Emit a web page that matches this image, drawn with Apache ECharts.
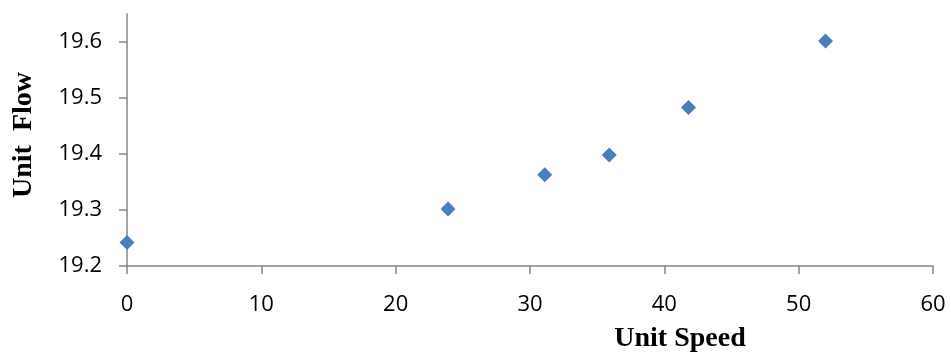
<!DOCTYPE html>
<html>
<head>
<meta charset="utf-8">
<script src="https://cdn.jsdelivr.net/npm/echarts@6/dist/echarts.min.js"></script>
<style>
  html, body { margin: 0; padding: 0; background: #fff; }
  #chart { width: 951px; height: 354px; }
</style>
</head>
<body>
<div id="chart"></div>
<script>
// Measured unit speed vs. unit flow
const unitSpeed = [0, 23.9, 31.1, 35.9, 41.8, 52.0];
const unitFlow = [19.242, 19.302, 19.363, 19.398, 19.483, 19.602];
const flowTicks = [19.2, 19.3, 19.4, 19.5, 19.6];

const points = unitSpeed.map((s, i) => [s, unitFlow[i]]);

const axisGrey = '#868686';
const tickFont = { fontFamily: 'Open Sans', fontSize: 22, color: '#000' };
const titleFont = { fontFamily: 'Liberation Serif', fontWeight: 'bold', fontSize: 28, color: '#000' };

const chart = echarts.init(document.getElementById('chart'), null, { renderer: 'canvas' });
chart.setOption({
  animation: false,
  grid: { left: 127, right: 18, top: 14, bottom: 88, containLabel: false, outerBoundsMode: 'none' },
  xAxis: {
    type: 'value',
    min: 0, max: 60, interval: 10,
    name: 'Unit Speed',
    nameLocation: 'middle',
    nameGap: 59,
    nameTextStyle: Object.assign({ padding: [0, 0, 0, 300] }, titleFont),
    axisLine: { show: true, lineStyle: { color: axisGrey, width: 1.5 } },
    axisTick: { show: true, length: 8, lineStyle: { color: axisGrey, width: 1.5 } },
    axisLabel: Object.assign({ margin: 28 }, tickFont),
    splitLine: { show: false }
  },
  yAxis: {
    type: 'value',
    min: 19.2, max: 19.65,
    name: 'Unit  Flow',
    nameLocation: 'middle',
    nameGap: 89,
    nameTextStyle: Object.assign({ padding: [0, 0, 0, 10] }, titleFont),
    axisLine: { show: true, lineStyle: { color: axisGrey, width: 1.5 } },
    axisTick: { show: true, length: 8, customValues: flowTicks, lineStyle: { color: axisGrey, width: 1.5 } },
    axisLabel: Object.assign({ margin: 25, customValues: flowTicks, formatter: v => v.toFixed(1) }, tickFont),
    splitLine: { show: false }
  },
  series: [{
    type: 'scatter',
    data: points,
    symbol: 'diamond',
    symbolSize: 15,
    itemStyle: { color: '#4A7EBB', opacity: 1 }
  }]
});
</script>
</body>
</html>
